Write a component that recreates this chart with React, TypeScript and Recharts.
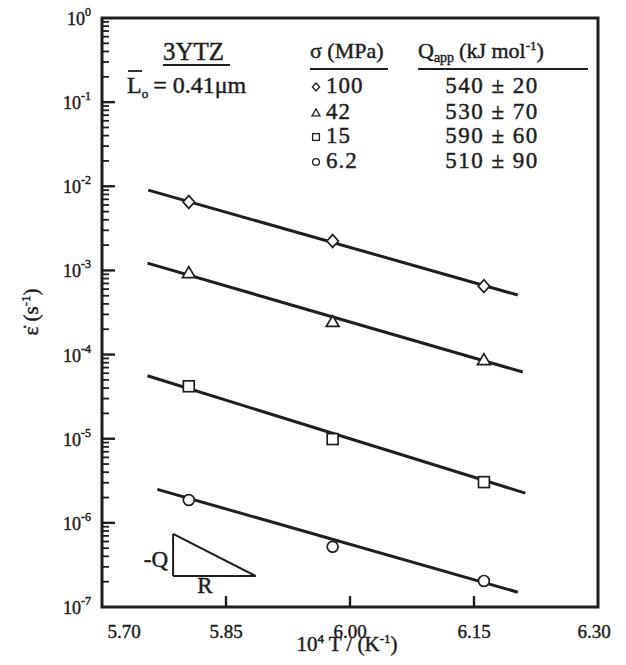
import { ComposedChart, Line, Scatter, XAxis, YAxis, ReferenceArea, ReferenceLine } from 'recharts';

const INK = '#1e1e1e';
const SERIF = '"Liberation Serif", "Times New Roman", serif';

// 10^4/T of the three test temperatures
const invT = [5.805, 5.979, 6.162];

// measured strain rates (s^-1) for each stress
const rate100 = [6.5e-3, 2.24e-3, 6.5e-4];
const rate42 = [9.3e-4, 2.44e-4, 8.6e-5];
const rate15 = [4.2e-5, 9.9e-6, 3.05e-6];
const rate6 = [1.87e-6, 5.2e-7, 2.04e-7];

// end points of the fitted lines
const fit100X = [5.756, 6.203];
const fit100Y = [9.0e-3, 5.1e-4];
const fit42X = [5.755, 6.209];
const fit42Y = [1.22e-3, 6.2e-5];
const fit15X = [5.755, 6.212];
const fit15Y = [5.6e-5, 2.26e-6];
const fit6X = [5.767, 6.203];
const fit6Y = [2.5e-6, 1.5e-7];

const stressLabels = ['100', '42', '15', '6.2'];
const qLabels = ['540 ± 20', '530 ± 70', '590 ± 60', '510 ± 90'];
const markerKinds = ['diamond', 'triangle', 'square', 'circle'];

const xTicks = [5.7, 5.85, 6.0, 6.15, 6.3];
const decadeExps = [0, -1, -2, -3, -4, -5, -6, -7];
const decadeLabels = ['0', '-1', '-2', '-3', '-4', '-5', '-6', '-7'];

// the -Q / R slope triangle, in data units
const slopeX = [5.786, 5.886];
const slopeY = [7.4e-7, 2.33e-7];

const X0 = 5.7;
const Y0 = 1e-7;

const majorTicks = decadeExps.map((e) => Math.pow(10, e));
const minorTicks: number[] = [];
decadeExps.slice(1).forEach((e) => {
  for (let m = 2; m <= 9; m++) minorTicks.push(m * Math.pow(10, e));
});

// anchor points for the inward tick marks
const majorTickPts = majorTicks.slice(1, -1).map((y) => ({ x: X0, y }));
const minorTickPts = minorTicks.map((y) => ({ x: X0, y }));
const xTickPts = xTicks.slice(1, -1).map((x) => ({ x, y: Y0 }));

const toPts = (xs: number[], ys: number[]) => xs.map((x, i) => ({ x, y: ys[i] }));

const series = [
  { pts: toPts(invT, rate100), fit: toPts(fit100X, fit100Y) },
  { pts: toPts(invT, rate42), fit: toPts(fit42X, fit42Y) },
  { pts: toPts(invT, rate15), fit: toPts(fit15X, fit15Y) },
  { pts: toPts(invT, rate6), fit: toPts(fit6X, fit6Y) },
];

const drawMarker = (kind: string, cx: number, cy: number, s: number, sw: number) => {
  const st = { fill: '#fff', stroke: INK, strokeWidth: sw };
  if (kind === 'diamond')
    return <path d={`M${cx},${cy - s}L${cx + s * 0.9},${cy}L${cx},${cy + s}L${cx - s * 0.9},${cy}Z`} {...st} />;
  if (kind === 'triangle')
    return <path d={`M${cx},${cy - s}L${cx + s},${cy + s * 0.7}L${cx - s},${cy + s * 0.7}Z`} {...st} />;
  if (kind === 'square') return <rect x={cx - s * 0.85} y={cy - s * 0.85} width={s * 1.7} height={s * 1.7} {...st} />;
  return <circle cx={cx} cy={cy} r={s * 0.85} {...st} />;
};

const markerShape = (kind: string) => (props: any) => {
  const { cx, cy } = props;
  if (cx == null || cy == null) return <g />;
  return drawMarker(kind, cx, cy, 6.4, 1.7);
};

const tickShape = (dx: number, dy: number, w: number) => (props: any) => {
  const { cx, cy } = props;
  if (cx == null || cy == null) return <g />;
  return <line x1={cx} y1={cy} x2={cx + dx} y2={cy + dy} stroke={INK} strokeWidth={w} />;
};

const txt = { fontFamily: SERIF, fill: INK, stroke: INK, strokeWidth: 0.45 };

const YTick = (props: any) => {
  const { x, y, payload } = props;
  const idx = majorTicks.findIndex((v) => Math.abs(v - payload.value) < v * 1e-6);
  if (idx < 0) return <g />;
  return (
    <text x={x - 3} y={y + 7} textAnchor="end" fontSize={18} {...txt}>
      10
      <tspan fontSize={12} dy={-9}>
        {decadeLabels[idx]}
      </tspan>
    </text>
  );
};

const XTick = (props: any) => {
  const { x, y, payload } = props;
  const v = payload.value;
  const dx = v < 5.71 ? 22 : v > 6.29 ? -4 : 0;
  return (
    <text x={x + dx} y={y + 23} textAnchor="middle" fontSize={19} {...txt}>
      {v.toFixed(2)}
    </text>
  );
};

export default function App() {
  const rowBase = [93, 119, 143, 168];
  return (
    <div style={{ position: 'absolute', left: 0, top: 0, width: 626, height: 665, background: '#fff' }}>
      <ComposedChart width={626} height={665} margin={{ top: 18, right: 28, bottom: 28, left: 42 }}>
        <XAxis
          dataKey="x"
          type="number"
          domain={[5.7, 6.3]}
          ticks={xTicks}
          interval={0}
          height={30}
          axisLine={false}
          tickLine={false}
          tick={<XTick />}
          allowDataOverflow
        />
        <YAxis
          dataKey="y"
          type="number"
          scale="log"
          domain={[1e-7, 1]}
          ticks={majorTicks}
          interval={0}
          width={60}
          axisLine={false}
          tickLine={false}
          tick={<YTick />}
          allowDataOverflow
        />

        {/* inward tick marks */}
        <Scatter data={majorTickPts} dataKey="y" shape={tickShape(13, 0, 2.4)} isAnimationActive={false} />
        <Scatter data={minorTickPts} dataKey="y" shape={tickShape(7, 0, 1.8)} isAnimationActive={false} />
        <Scatter data={xTickPts} dataKey="y" shape={tickShape(0, -11, 2.4)} isAnimationActive={false} />

        {series.map((s, i) => (
          <Line
            key={'fit' + i}
            data={s.fit}
            dataKey="y"
            type="linear"
            stroke={INK}
            strokeWidth={3}
            dot={false}
            activeDot={false}
            isAnimationActive={false}
          />
        ))}
        {series.map((s, i) => (
          <Scatter
            key={'pts' + i}
            data={s.pts}
            dataKey="y"
            shape={markerShape(markerKinds[i])}
            isAnimationActive={false}
          />
        ))}
        <ReferenceLine
          segment={[{ x: slopeX[0], y: slopeY[0] }, { x: slopeX[0], y: slopeY[1] }]}
          stroke={INK}
          strokeWidth={2}
        />
        <ReferenceLine
          segment={[{ x: slopeX[0], y: slopeY[1] }, { x: slopeX[1], y: slopeY[1] }]}
          stroke={INK}
          strokeWidth={2}
        />
        <ReferenceLine
          segment={[{ x: slopeX[0], y: slopeY[0] }, { x: slopeX[1], y: slopeY[1] }]}
          stroke={INK}
          strokeWidth={2}
        />
        <ReferenceArea x1={5.7} x2={6.3} y1={1e-7} y2={1} fill="none" stroke={INK} strokeWidth={3} ifOverflow="visible" />
      </ComposedChart>

      <svg
        width={626}
        height={665}
        style={{ position: 'absolute', left: 0, top: 0, pointerEvents: 'none' }}
      >
        <text x={163} y={60} fontSize={25} {...txt}>
          3YTZ
        </text>
        <line x1={163} x2={230} y1={65} y2={65} stroke={INK} strokeWidth={1.8} />
        <line x1={128} x2={142} y1={71} y2={71} stroke={INK} strokeWidth={1.8} />
        <text x={127} y={93} fontSize={24} {...txt}>
          L<tspan fontSize={13} dy={5}>o</tspan>
          <tspan dy={-5} dx={5}>= 0.41μm</tspan>
        </text>

        <text x={310} y={58} fontSize={22} {...txt}>
          σ (MPa)
        </text>
        <line x1={310} x2={388} y1={69} y2={69} stroke={INK} strokeWidth={1.8} />
        <text x={418} y={58} fontSize={22} {...txt}>
          Q<tspan fontSize={14} dy={4}>app</tspan>
          <tspan dy={-4} dx={5}>(kJ mol</tspan>
          <tspan fontSize={13} dy={-8}>-1</tspan>
          <tspan dy={8}>)</tspan>
        </text>
        <line x1={418} x2={588} y1={69} y2={69} stroke={INK} strokeWidth={1.8} />

        {stressLabels.map((lab, i) => (
          <g key={lab}>
            {drawMarker(markerKinds[i], 316, rowBase[i] - 6, 4, 1.3)}
            <text x={326} y={rowBase[i]} fontSize={23} letterSpacing={1} {...txt}>
              {lab}
            </text>
            <text x={492} y={rowBase[i]} fontSize={23} letterSpacing={1.5} textAnchor="middle" {...txt}>
              {qLabels[i]}
            </text>
          </g>
        ))}

        <text x={168} y={567} fontSize={23} textAnchor="end" {...txt}>
          -Q
        </text>
        <text x={205} y={593} fontSize={23} textAnchor="middle" {...txt}>
          R
        </text>

        <text x={347} y={651} fontSize={21} textAnchor="middle" {...txt}>
          10<tspan fontSize={13} dy={-8}>4</tspan>
          <tspan dy={8}> T / (K</tspan>
          <tspan fontSize={13} dy={-8}>-1</tspan>
          <tspan dy={8}>)</tspan>
        </text>
        <text x={32} y={312} fontSize={21} textAnchor="middle" transform="rotate(-90 32 312)" dy={6} {...txt}>
          ε̇ (s<tspan fontSize={13} dy={-8}>-1</tspan>
          <tspan dy={8}>)</tspan>
        </text>
      </svg>
    </div>
  );
}
